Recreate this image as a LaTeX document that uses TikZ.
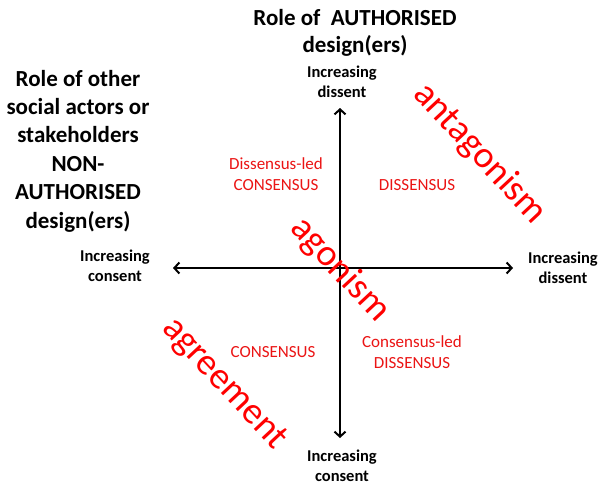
\documentclass[tikz,border=0pt]{standalone}
\usepackage{fontspec}
\setmainfont{Carlito}
\usetikzlibrary{arrows.meta}
\definecolor{lblred}{RGB}{235,20,20}
\begin{document}
\begin{tikzpicture}[x=1pt,y=-1pt,
  title/.style={font=\fontsize{23}{27}\selectfont\bfseries, align=center, inner sep=0pt},
  axislbl/.style={font=\fontsize{16.5}{20.5}\selectfont\bfseries, align=center, inner sep=0pt},
  quad/.style={font=\fontsize{17}{21}\selectfont, text=lblred, align=center, inner sep=0pt},
  bigword/.style={font=\fontsize{37.5}{44}\selectfont, text=red, inner sep=0pt, rotate=-47},
  axis/.style={line width=2pt, {Straight Barb[length=5pt,width=11pt,line width=2pt]}-{Straight Barb[length=5pt,width=11pt,line width=2pt]}}
]
\useasboundingbox (0,0) rectangle (602,485);
\fill[white] (0,0) rectangle (602,485);

\coordinate (top) at (340,108);
\coordinate (bot) at (340,438);
\coordinate (lft) at (173,268);
\coordinate (rgt) at (513,268);

\draw[axis] (bot) -- (top);
\draw[axis] (lft) -- (rgt);

\node[title] (ttop) at (355,33) {Role of\ \ AUTHORISED\\design(ers)};
\node[title, font=\fontsize{23}{28.4}\selectfont\bfseries] (tleft) at (78,151) {Role of other\\social actors or\\stakeholders\\NON-\\AUTHORISED\\design(ers)};

\node[axislbl] (ltop) at (342,82) {Increasing\\dissent};
\node[axislbl] (lleft) at (115,266) {Increasing\\consent};
\node[axislbl] (lright) at (563,268) {Increasing\\dissent};
\node[axislbl] (lbot) at (342,466) {Increasing\\consent};

\node[quad] (q1) at (276,174) {Dissensus-led\\CONSENSUS};
\node[quad] (q2) at (417,185) {DISSENSUS};
\node[quad] (q3) at (273,352) {CONSENSUS};
\node[quad] (q4) at (412,352) {Consensus-led\\DISSENSUS};

\node[bigword] (w1) at (480,154) {antagonism};
\node[bigword] (w2) at (340,270) {agonism};
\node[bigword] (w3) at (224,384) {agreement};
\end{tikzpicture}
\end{document}
